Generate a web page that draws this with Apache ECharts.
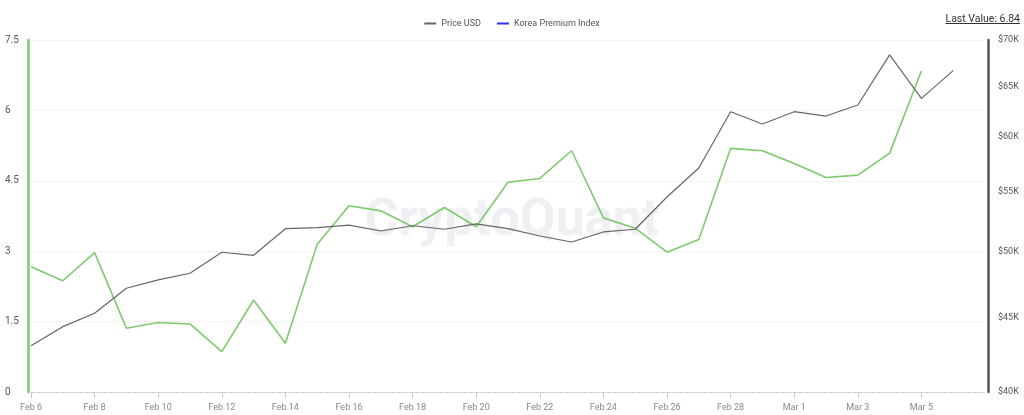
<!DOCTYPE html>
<html>
<head>
<meta charset="utf-8">
<script src="https://cdn.jsdelivr.net/npm/echarts@6/dist/echarts.min.js"></script>
<style>
  html, body { margin: 0; padding: 0; background: #fff; }
  #chart { width: 1024px; height: 415px; }
  #last {
    position: absolute; right: 4px; top: 12px; white-space: nowrap;
    font: 10.5px Roboto, sans-serif; color: #333; text-decoration: underline;
  }
</style>
</head>
<body>
<div id="chart"></div>
<div id="last">Last Value: 6.84</div>
<script>
// dates (Mar 7 is an empty slot at the right edge)
const dates = [
  "Feb 6", "Feb 7", "Feb 8", "Feb 9", "Feb 10", "Feb 11", "Feb 12", "Feb 13",
  "Feb 14", "Feb 15", "Feb 16", "Feb 17", "Feb 18", "Feb 19", "Feb 20", "Feb 21",
  "Feb 22", "Feb 23", "Feb 24", "Feb 25", "Feb 26", "Feb 27", "Feb 28", "Feb 29",
  "Mar 1", "Mar 2", "Mar 3", "Mar 4", "Mar 5", "Mar 6", "Mar 7",
];
const priceUsd = [
  43050, 44380, 45330, 47170, 47800, 48310, 49950, 49710, 51860, 51940,
  52160, 51670, 52100, 51810, 52250, 51860, 51260, 50770, 51590, 51810,
  54540, 57110, 62460, 61250, 62460, 62030, 63130, 68360, 63800, 66670,
];
const koreaPremium = [
  2.67, 2.37, 2.97, 1.36, 1.48, 1.45, 0.86, 1.96, 1.04, 3.15,
  3.97, 3.86, 3.52, 3.93, 3.52, 4.47, 4.55, 5.14, 3.71, 3.49,
  2.98, 3.25, 5.19, 5.14, 4.87, 4.57, 4.62, 5.09, 6.84,
];
const usdTicks = [40000, 45000, 50000, 55000, 60000, 65000, 70000];

const myChart = echarts.init(document.getElementById("chart"));

myChart.setOption({
  animation: false,
  textStyle: { fontFamily: "Roboto, sans-serif" },
  legend: {
    top: 14,
    left: "center",
    icon: "rect",
    itemWidth: 12,
    itemHeight: 2,
    itemGap: 16,
    textStyle: { fontSize: 9, color: "#555" },
    data: [
      { name: "Price USD", itemStyle: { color: "#666" } },
      { name: "Korea Premium Index", itemStyle: { color: "#3030f0" } },
    ],
  },
  graphic: [
    {
      type: "text",
      left: "center",
      top: 196,
      z: -1,
      style: {
        text: "CryptoQuant",
        font: "bold 52px Roboto, sans-serif",
        fill: "#efeff4",
      },
    },
  ],
  grid: { left: 31, right: 39, top: 40, bottom: 23, containLabel: false },
  xAxis: {
    type: "category",
    data: dates,
    boundaryGap: false,
    axisLine: { lineStyle: { color: "#ccc", type: "dashed" } },
    axisTick: {
      length: 6,
      lineStyle: { color: "#ccc" },
      interval: (i) => i % 2 === 0 && i < 30,
    },
    axisLabel: {
      color: "#888",
      fontSize: 9,
      margin: 11,
      interval: (i) => i % 2 === 0 && i < 30,
    },
    splitLine: { show: false },
  },
  yAxis: [
    {
      type: "value",
      min: 0,
      max: 7.5,
      interval: 1.5,
      position: "left",
      offset: 3,
      axisLine: { show: true, lineStyle: { color: "#7ccb6c", width: 2.5 } },
      axisTick: { show: false },
      axisLabel: { color: "#555", fontSize: 10, align: "left", margin: 23 },
      splitLine: { lineStyle: { color: "#f3f3f3" } },
    },
    {
      type: "log",
      min: 40000,
      max: 70000,
      position: "right",
      offset: 3,
      axisLine: { show: true, lineStyle: { color: "#555", width: 2.5 } },
      axisTick: { show: false },
      axisLabel: {
        color: "#555",
        fontSize: 9,
        margin: 10,
        customValues: usdTicks,
        formatter: (v) => "$" + Math.round(v / 1000) + "K",
      },
      splitLine: { show: false },
    },
  ],
  series: [
    {
      name: "Price USD",
      type: "line",
      yAxisIndex: 1,
      data: priceUsd,
      symbol: "none",
      lineStyle: { color: "#666", width: 1.2 },
      itemStyle: { color: "#666" },
      z: 3,
    },
    {
      name: "Korea Premium Index",
      type: "line",
      yAxisIndex: 0,
      data: koreaPremium,
      symbol: "none",
      lineStyle: { color: "#7ccb6c", width: 1.6 },
      itemStyle: { color: "#3030f0" },
      z: 2,
    },
  ],
});
</script>
</body>
</html>
